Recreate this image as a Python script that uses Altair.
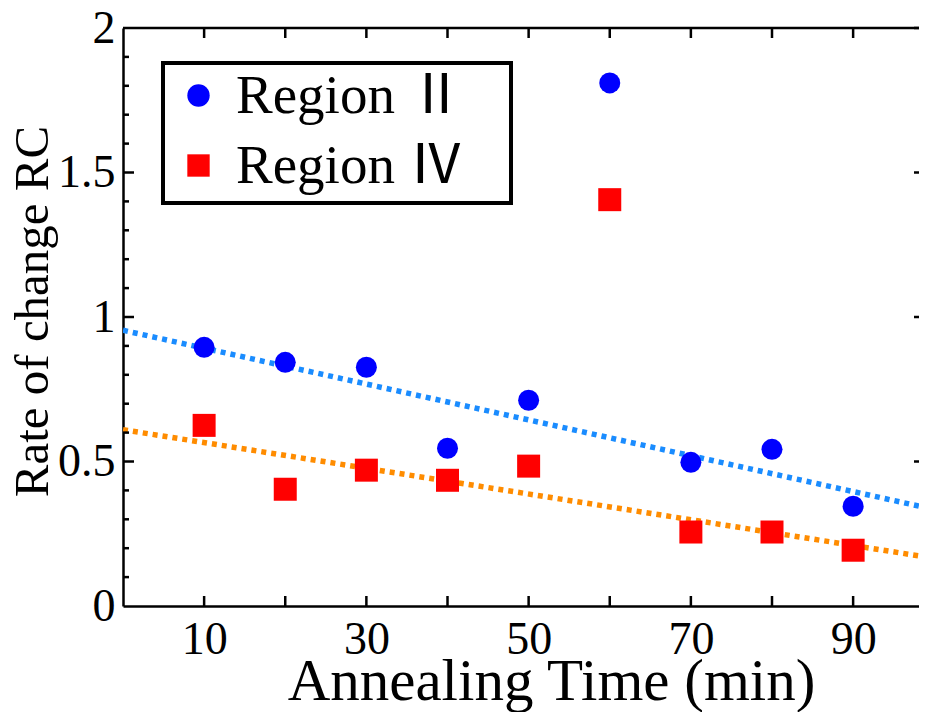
import altair as alt
import pandas as pd

# ---- data ----
time = [10, 20, 30, 40, 50, 60, 70, 80, 90]
region2 = [0.895, 0.843, 0.826, 0.546, 0.712, 1.81, 0.497, 0.542, 0.345]
region4 = [0.625, 0.404, 0.47, 0.435, 0.484, 1.406, 0.256, 0.256, 0.193]
series = ["Region Ⅱ", "Region Ⅳ"]

trend_x = [0, 100]
trend2 = [0.954, 0.334]
trend4 = [0.61, 0.165]

x_ticks = [10, 20, 30, 40, 50, 60, 70, 80, 90]
x_labels = [10, 30, 50, 70, 90]
y_labels = [0, 0.5, 1, 1.5, 2]
y_major_inner = [0.5, 1, 1.5]
y_right = [0.5, 1, 1.5, 2]
y_minor = [0.1, 0.2, 0.3, 0.4, 0.6, 0.7, 0.8, 0.9,
           1.1, 1.2, 1.3, 1.4, 1.6, 1.7, 1.8, 1.9]

# ---- layout / style ----
W, H = 796, 578
PAD_LEFT = 115
PAD_TOP = 20
SVG_H = 704
X_MAX = 98.12
FONT = "Liberation Serif"
LEG_FONT = "'Liberation Serif', 'Noto Sans CJK JP'"
BLACK = "#000000"
FRAME_W = 2.5

xscale = alt.Scale(domain=[0, X_MAX], nice=False, zero=False)
yscale = alt.Scale(domain=[0, 2], nice=False)

xaxis = alt.Axis(values=x_labels, ticks=False, grid=False, domain=True,
                 domainColor=BLACK, domainWidth=FRAME_W,
                 labelFont=FONT, labelFontSize=46, labelColor=BLACK,
                 labelPadding=11, labelFlush=False,
                 title="Annealing Time (min)", titleFont=FONT, titleFontSize=59,
                 titleFontWeight="normal", titleColor=BLACK,
                 titleX=428, titleY=93, titleBaseline="alphabetic")
yaxis = alt.Axis(values=y_labels, ticks=False, grid=False, domain=True,
                 domainColor=BLACK, domainWidth=FRAME_W, format="~g",
                 labelFont=FONT, labelFontSize=46, labelColor=BLACK,
                 labelPadding=8, labelFlush=False,
                 title="Rate of change RC", titleFont=FONT, titleFontSize=49,
                 titleFontWeight="normal", titleColor=BLACK,
                 titleX=-76, titleY=283, titleBaseline="alphabetic", titleAngle=270)

X = alt.X("x:Q", scale=xscale, axis=xaxis)
Y = alt.Y("y:Q", scale=yscale, axis=yaxis)

pts = pd.DataFrame({
    "x": time + time,
    "y": region2 + region4,
    "series": [series[0]] * len(time) + [series[1]] * len(time),
})

color = alt.Color("series:N", scale=alt.Scale(domain=series, range=["#0000ff", "#ff0000"]),
                  legend=alt.Legend(orient="none", legendX=40, legendY=40, title=None,
                                    labelFont=LEG_FONT, labelFontSize=55, labelColor=BLACK,
                                    symbolSize=500, symbolOffset=8, labelOffset=10,
                                    rowPadding=14, symbolStrokeWidth=0, padding=0,
                                    labelLimit=400))
shape = alt.Shape("series:N", scale=alt.Scale(domain=series, range=["circle", "square"]))

circles = alt.Chart(pts).transform_filter(alt.datum.series == series[0]).mark_point(
    filled=True, size=441, opacity=1).encode(x=X, y=Y, color=color, shape=shape)
squares = alt.Chart(pts).transform_filter(alt.datum.series == series[1]).mark_point(
    filled=True, size=529, opacity=1).encode(x=X, y=Y, color=color, shape=shape)

t2 = pd.DataFrame({"x": trend_x, "y": trend2})
t4 = pd.DataFrame({"x": trend_x, "y": trend4})
line2 = alt.Chart(t2).mark_line(color="#1a8cff", strokeWidth=5.5, strokeDash=[5, 5],
                                clip=True).encode(x=X, y=Y)
line4 = alt.Chart(t4).mark_line(color="#ff8c00", strokeWidth=5.5, strokeDash=[5, 5],
                                clip=True).encode(x=X, y=Y)

xt = pd.DataFrame({"x": x_ticks})
bottom_ticks = alt.Chart(xt).mark_rule(color=BLACK, strokeWidth=FRAME_W).encode(
    x=X, y=alt.value(H), y2=alt.value(H - 10))
top_ticks = alt.Chart(xt).mark_rule(color=BLACK, strokeWidth=FRAME_W).encode(
    x=X, y=alt.value(0), y2=alt.value(10))
left_major = alt.Chart(pd.DataFrame({"y": y_major_inner})).mark_rule(
    color=BLACK, strokeWidth=FRAME_W).encode(y=Y, x=alt.value(0), x2=alt.value(11))
left_minor = alt.Chart(pd.DataFrame({"y": y_minor})).mark_rule(
    color=BLACK, strokeWidth=FRAME_W).encode(y=Y, x=alt.value(0), x2=alt.value(6))
right_major = alt.Chart(pd.DataFrame({"y": y_right})).mark_rule(
    color=BLACK, strokeWidth=FRAME_W).encode(y=Y, x=alt.value(W - 5), x2=alt.value(W))
top_frame = alt.Chart(pd.DataFrame({"y": [2]})).mark_rule(
    color=BLACK, strokeWidth=FRAME_W).encode(y=Y, x=alt.value(0), x2=alt.value(W))

legend_box = alt.Chart(pd.DataFrame({"y": [2]})).mark_rect(
    fill="white", stroke=BLACK, strokeWidth=4).encode(
    x=alt.value(40), x2=alt.value(388), y=alt.value(35), y2=alt.value(175))

chart = alt.layer(
    line2, line4, circles, squares,
    bottom_ticks, top_ticks, left_major, left_minor, right_major, top_frame,
    legend_box,
).properties(
    width=W, height=H,
    autosize=alt.AutoSizeParams(type="none"),
    padding={"left": PAD_LEFT, "top": PAD_TOP, "right": 0,
             "bottom": SVG_H - PAD_TOP - H},
    background="white",
).configure_view(stroke=None)

chart.save("out.html", embed_options={"renderer": "svg", "actions": False})
